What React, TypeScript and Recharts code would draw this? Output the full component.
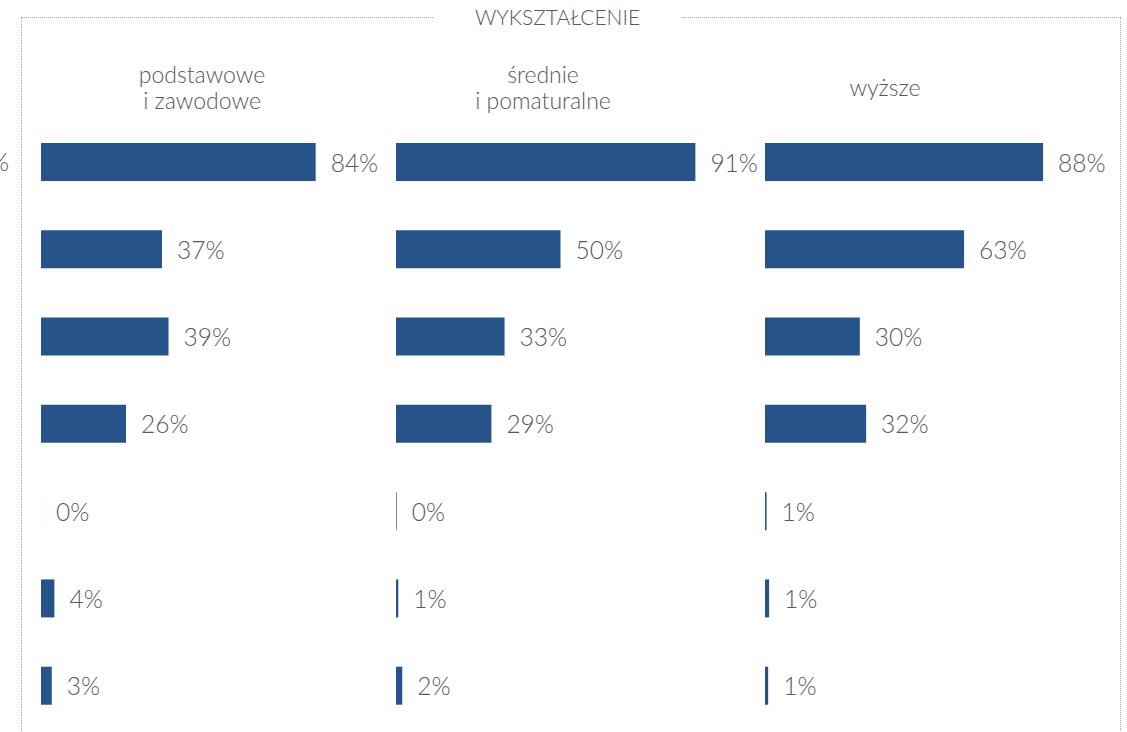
import { Bar, BarChart, LabelList, XAxis, YAxis } from "recharts";

// row keys (row names sit in a panel outside the crop)
const rows = ["r1", "r2", "r3", "r4", "r5", "r6", "r7"];

const podstawowe = [84, 37, 39, 26, 0.01, 4.1, 3.3];
const srednie = [91, 50, 33, 29, 0.2, 0.7, 1.9];
const wyzsze = [88, 63, 30, 32, 0.5, 1.3, 1.0];

const titles = [["podstawowe", "i zawodowe"], ["średnie", "i pomaturalne"], ["wyższe"]];
const mainTitle = "WYKSZTAŁCENIE";

const FONT = 'Lato, "Open Sans", sans-serif';
const TEXT = "#595959";
const BAR = "#26548a";

const renderLabel = (props: any) => {
    const { x, y, width, height, value } = props;
    return (
        <text
            x={Number(x) + Number(width) + 15}
            y={Number(y) + Number(height) / 2}
            dominantBaseline="central"
            textAnchor="start"
            fontFamily={FONT}
            fontWeight={300}
            fontSize={24.5}
            fill={TEXT}
        >
            {Math.round(value)}%
        </text>
    );
};

interface PanelProps {
    values: number[];
    left: number;
    plotWidth: number;
}

function Panel({ values, left, plotWidth }: PanelProps) {
    const data = rows.map((r, i) => ({ row: r, v: values[i] }));
    return (
        <div style={{ position: "absolute", left, top: 118 }}>
            <BarChart
                layout="vertical"
                width={plotWidth + 70}
                height={611}
                data={data}
                margin={{ top: 0, right: 70, bottom: 0, left: 0 }}
            >
                <XAxis type="number" domain={[0, 100]} hide />
                <YAxis type="category" dataKey="row" hide />
                <Bar dataKey="v" fill={BAR} barSize={38} isAnimationActive={false}>
                    <LabelList dataKey="v" content={renderLabel} />
                </Bar>
            </BarChart>
        </div>
    );
}

function Header({ lines, center }: { lines: string[]; center: number }) {
    return (
        <div
            style={{
                position: "absolute",
                left: center - 120,
                width: 240,
                top: lines.length > 1 ? 61 : 74,
                textAlign: "center",
                fontFamily: FONT,
                fontWeight: 300,
                fontSize: 23,
                lineHeight: "26px",
                color: TEXT,
            }}
        >
            {lines.map((l) => (
                <div key={l}>{l}</div>
            ))}
        </div>
    );
}

export default function App() {
    return (
        <div
            style={{
                position: "fixed",
                left: 0,
                top: 0,
                width: 1127,
                height: 732,
                overflow: "hidden",
                background: "#fff",
            }}
        >
            {/* dotted frame */}
            <div
                style={{
                    position: "absolute",
                    left: 21,
                    top: 17,
                    width: 1098,
                    height: 800,
                    border: "1px dotted #a6a6a6",
                }}
            />
            <div
                style={{
                    position: "absolute",
                    left: 433,
                    width: 249,
                    top: 7,
                    textAlign: "center",
                    background: "#fff",
                    fontFamily: FONT,
                    fontWeight: 300,
                    fontSize: 21,
                    lineHeight: "20px",
                    color: TEXT,
                }}
            >
                {mainTitle}
            </div>

            {/* leftover label from the neighbouring chart */}
            <div
                style={{
                    position: "absolute",
                    left: -10,
                    top: 147,
                    fontFamily: FONT,
                    fontWeight: 300,
                    fontSize: 24.5,
                    lineHeight: "30px",
                    color: TEXT,
                }}
            >
                %
            </div>

            <Header lines={titles[0]} center={202} />
            <Header lines={titles[1]} center={543} />
            <Header lines={titles[2]} center={885} />

            <Panel values={podstawowe} left={41} plotWidth={327} />
            <Panel values={srednie} left={396} plotWidth={329} />
            <Panel values={wyzsze} left={765} plotWidth={316} />
        </div>
    );
}
